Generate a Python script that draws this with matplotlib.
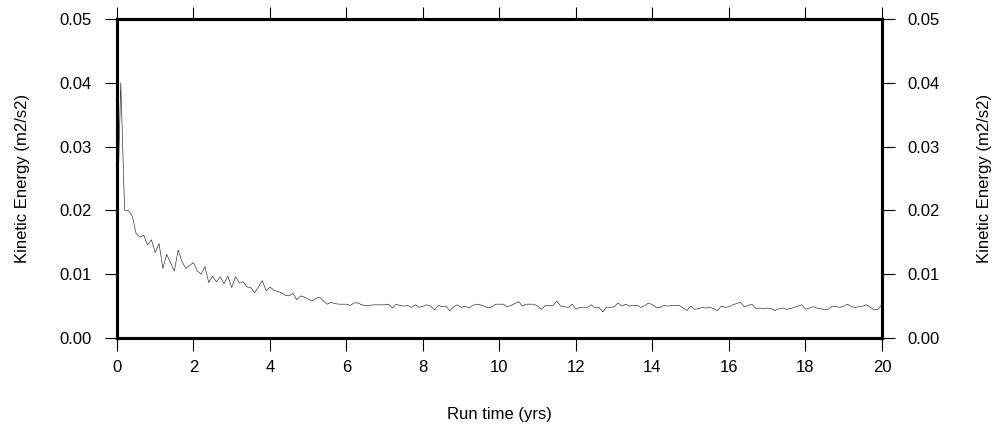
import numpy as np
import matplotlib
matplotlib.use("Agg")
from matplotlib import pyplot as plt

plt.rcParams['font.family'] = ['Liberation Sans', 'DejaVu Sans']

# run time in years, one sample every 0.1 yr
run_time = np.round(np.arange(0, 201) * 0.1, 1)

# kinetic energy (m2/s2), one row per model year
kinetic_energy = [
    0.0170, 0.0400, 0.0200, 0.0200, 0.0191, 0.0164, 0.0158, 0.0161, 0.0146, 0.0154,  # 0
    0.0134, 0.0148, 0.0109, 0.0131, 0.0118, 0.0105, 0.0138, 0.0120, 0.0109, 0.0114,  # 1
    0.0118, 0.0105, 0.0100, 0.0112, 0.0087, 0.0097, 0.0088, 0.0096, 0.0085, 0.0097,  # 2
    0.0079, 0.0096, 0.0087, 0.0088, 0.0080, 0.0079, 0.0071, 0.0080, 0.0090, 0.0074,  # 3
    0.0080, 0.0075, 0.0073, 0.0071, 0.0067, 0.0066, 0.0070, 0.0060, 0.0066, 0.0064,  # 4
    0.0061, 0.0058, 0.0062, 0.0064, 0.0058, 0.0053, 0.0056, 0.0054, 0.0053, 0.0053,  # 5
    0.0053, 0.0051, 0.0055, 0.0055, 0.0052, 0.0051, 0.0051, 0.0052, 0.0052, 0.0052,  # 6
    0.0052, 0.0053, 0.0047, 0.0053, 0.0051, 0.0050, 0.0051, 0.0048, 0.0052, 0.0048,  # 7
    0.0050, 0.0052, 0.0050, 0.0044, 0.0051, 0.0049, 0.0050, 0.0043, 0.0049, 0.0052,  # 8
    0.0048, 0.0050, 0.0047, 0.0051, 0.0053, 0.0052, 0.0050, 0.0047, 0.0049, 0.0053,  # 9
    0.0053, 0.0053, 0.0049, 0.0051, 0.0054, 0.0057, 0.0050, 0.0053, 0.0053, 0.0053,  # 10
    0.0050, 0.0045, 0.0051, 0.0051, 0.0051, 0.0058, 0.0050, 0.0049, 0.0048, 0.0053,  # 11
    0.0045, 0.0048, 0.0048, 0.0048, 0.0052, 0.0047, 0.0048, 0.0041, 0.0048, 0.0048,  # 12
    0.0049, 0.0055, 0.0050, 0.0053, 0.0050, 0.0051, 0.0051, 0.0048, 0.0051, 0.0055,  # 13
    0.0052, 0.0048, 0.0048, 0.0051, 0.0050, 0.0051, 0.0051, 0.0051, 0.0047, 0.0043,  # 14
    0.0050, 0.0045, 0.0046, 0.0048, 0.0047, 0.0048, 0.0046, 0.0043, 0.0050, 0.0048,  # 15
    0.0049, 0.0052, 0.0054, 0.0056, 0.0049, 0.0051, 0.0053, 0.0046, 0.0047, 0.0046,  # 16
    0.0047, 0.0046, 0.0043, 0.0046, 0.0047, 0.0045, 0.0046, 0.0048, 0.0050, 0.0052,  # 17
    0.0045, 0.0047, 0.0049, 0.0047, 0.0046, 0.0044, 0.0045, 0.0050, 0.0049, 0.0048,  # 18
    0.0050, 0.0053, 0.0049, 0.0048, 0.0049, 0.0050, 0.0052, 0.0048, 0.0044, 0.0045,  # 19
    0.0053,                                                                          # 20
]

x_ticks = [0, 2, 4, 6, 8, 10, 12, 14, 16, 18, 20]
y_ticks = [0.00, 0.01, 0.02, 0.03, 0.04, 0.05]
y_label = "Kinetic Energy (m2/s2)"

fig = plt.figure(figsize=(9.92, 4.29), dpi=100)
ax = fig.add_axes([0.1179, 0.2121, 0.7712, 0.7436])

ax.plot(run_time, kinetic_energy, color="#222222", linewidth=0.45)

ax.set_xlim(0, 20)
ax.set_ylim(0, 0.05)
ax.set_xticks(x_ticks)
ax.set_yticks(y_ticks)
ax.set_yticklabels([f"{v:.2f}" for v in y_ticks])
ax.tick_params(axis="both", direction="out", length=9, width=0.8, labelsize=12, pad=9)
ax.tick_params(axis="x", top=True, pad=7)
for s in ax.spines.values():
    s.set_linewidth(2.2)

ax.set_xlabel("Run time (yrs)", fontsize=12, labelpad=23)
ax.set_ylabel(y_label, fontsize=12, labelpad=21)

# right hand axis mirrors the left one
ax2 = ax.twinx()
ax2.set_ylim(0, 0.05)
ax2.set_yticks(y_ticks)
ax2.set_yticklabels([f"{v:.2f}" for v in y_ticks])
ax2.tick_params(axis="y", direction="out", length=9, width=0.8, labelsize=12, pad=9)
ax2.set_ylabel(y_label, fontsize=12, rotation=90, labelpad=27)
for s in ax2.spines.values():
    s.set_linewidth(2.2)

fig.savefig("out.png", dpi=100)
